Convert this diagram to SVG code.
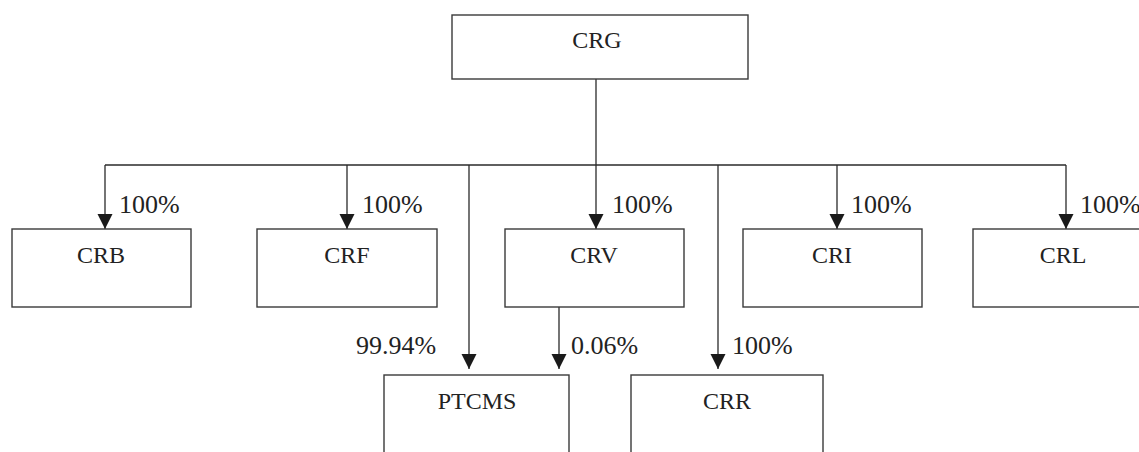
<svg xmlns="http://www.w3.org/2000/svg" width="1139" height="452" viewBox="0 0 1139 452">
<style>
.box{fill:#fff;stroke:#3a3a3a;stroke-width:1.4}
.name{font-family:"Liberation Serif",serif;font-size:24px;fill:#222;text-anchor:middle}
.pct{font-family:"Liberation Serif",serif;font-size:26px;fill:#222}
.ln{fill:none;stroke:#2a2a2a;stroke-width:1.3}
</style>
<defs>
<marker id="ah" markerUnits="userSpaceOnUse" markerWidth="16" markerHeight="16" viewBox="0 0 16 16" refX="15" refY="8" orient="auto">
<path d="M0,0.5 L15,8 L0,15.5 Z" fill="#1a1a1a"/>
</marker>
</defs>
<rect width="1139" height="452" fill="#fff"/>
<g id="connectors">
<path class="ln" d="M596,79 V165"/>
<path class="ln" d="M105,165 H1066"/>
<path class="ln" d="M105,165 V229" marker-end="url(#ah)"/>
<path class="ln" d="M347,165 V229" marker-end="url(#ah)"/>
<path class="ln" d="M596,165 V229" marker-end="url(#ah)"/>
<path class="ln" d="M837,165 V229" marker-end="url(#ah)"/>
<path class="ln" d="M1066,165 V229" marker-end="url(#ah)"/>
<path class="ln" d="M469,165 V369" marker-end="url(#ah)"/>
<path class="ln" d="M718,165 V369" marker-end="url(#ah)"/>
<path class="ln" d="M559,307 V369" marker-end="url(#ah)"/>
<text class="pct" x="119" y="213">100%</text>
<text class="pct" x="362" y="213">100%</text>
<text class="pct" x="612" y="213">100%</text>
<text class="pct" x="851" y="213">100%</text>
<text class="pct" x="1080" y="213">100%</text>
<text class="pct" x="356" y="354">99.94%</text>
<text class="pct" x="571" y="354">0.06%</text>
<text class="pct" x="732" y="354">100%</text>
</g>
<g id="CRG"><rect class="box" x="452" y="15" width="296" height="64"/><text class="name" x="597" y="48">CRG</text></g>
<g id="CRB"><rect class="box" x="12" y="229" width="179" height="78"/><text class="name" x="101" y="263">CRB</text></g>
<g id="CRF"><rect class="box" x="257" y="229" width="180" height="78"/><text class="name" x="347" y="263">CRF</text></g>
<g id="CRV"><rect class="box" x="505" y="229" width="179" height="78"/><text class="name" x="594" y="263">CRV</text></g>
<g id="CRI"><rect class="box" x="743" y="229" width="179" height="78"/><text class="name" x="832" y="263">CRI</text></g>
<g id="CRL"><rect class="box" x="973" y="229" width="180" height="78"/><text class="name" x="1063" y="263">CRL</text></g>
<g id="PTCMS"><rect class="box" x="384" y="375" width="185" height="90"/><text class="name" x="477" y="409">PTCMS</text></g>
<g id="CRR"><rect class="box" x="631" y="375" width="192" height="90"/><text class="name" x="727" y="409">CRR</text></g>
</svg>
